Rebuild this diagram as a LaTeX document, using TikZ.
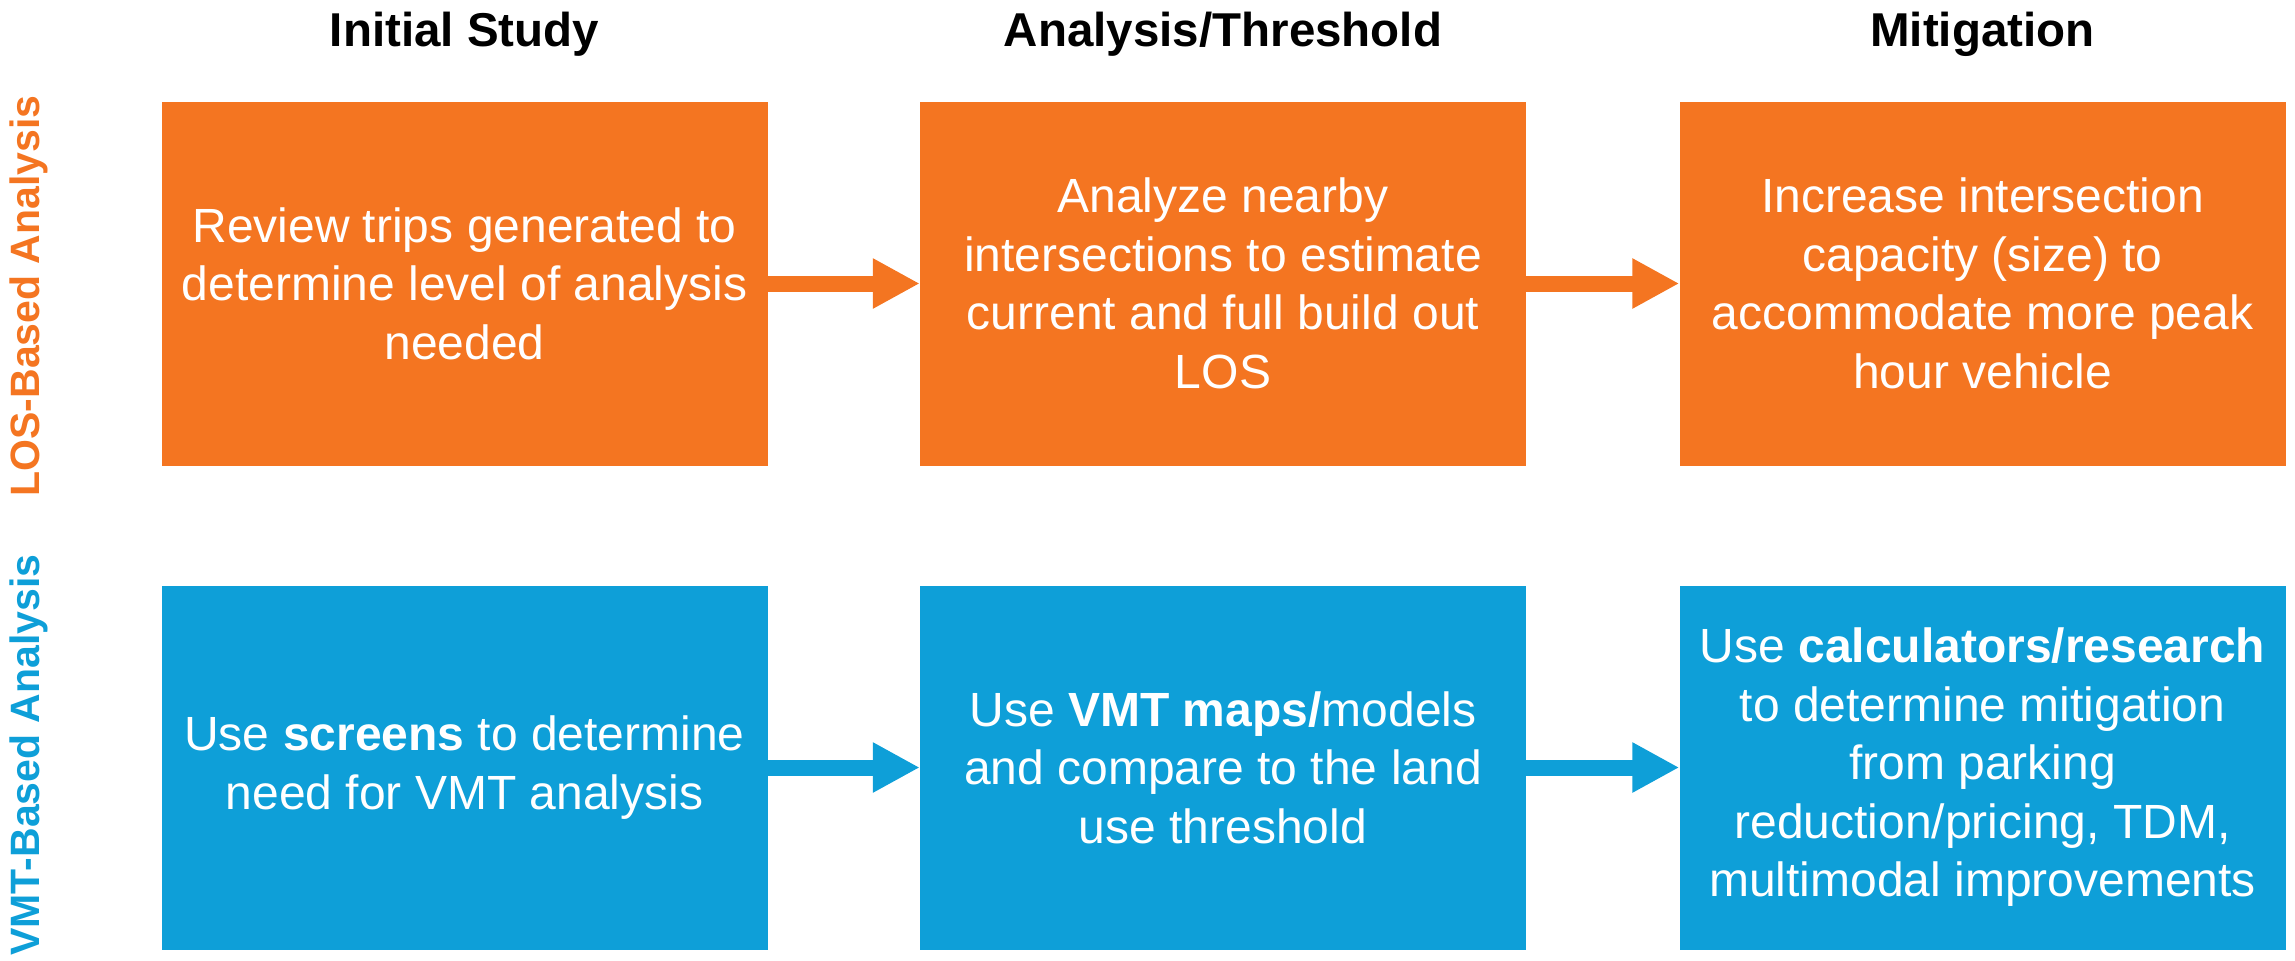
\documentclass[tikz,border=0pt]{standalone}
\usepackage{fontspec}
\setmainfont{Liberation Sans}
\usetikzlibrary{arrows.meta}
\definecolor{losorange}{RGB}{244,117,33}
\definecolor{vmtblue}{RGB}{14,159,216}
\begin{document}
\begin{tikzpicture}[x=1pt,y=-1pt,
  boxbase/.style={minimum width=606pt,minimum height=364pt,inner sep=0pt,align=center,text=white,font=\fontsize{48}{58.5}\selectfont},
  obox/.style={boxbase,fill=losorange},
  bbox/.style={boxbase,fill=vmtblue},
  head/.style={font=\fontsize{47.5}{57}\selectfont\bfseries,anchor=base},
  side/.style={rotate=90,font=\fontsize{41}{49}\selectfont\bfseries},
  arrowO/.style={draw=losorange,line width=16pt,-{Triangle[length=47pt,width=47pt]},losorange},
  arrowB/.style={draw=vmtblue,line width=16pt,-{Triangle[length=47pt,width=47pt]},vmtblue}]
\useasboundingbox (0,0) rectangle (2295,961);
% headers
\node[head] (h1) at (464.5,46) {Initial Study};
\node[head] (h2) at (1223,46) {Analysis/Threshold};
\node[head] (h3) at (1982.5,46) {Mitigation};
% side labels
\node[side,text=losorange] (sl) at (29,296) {LOS-Based Analysis};
\node[side,text=vmtblue] (sv) at (29,755) {VMT-Based Analysis};
% orange row
\node[obox] (o1) at (464.5,283.5) {Review trips generated to\\determine level of analysis\\needed};
\node[obox] (o2) at (1223,283.5) {Analyze nearby\\intersections to estimate\\current and full build out\\LOS};
\node[obox] (o3) at (1982.5,283.5) {Increase intersection\\capacity (size) to\\accommodate more peak\\hour vehicle};
% blue row
\node[bbox] (b1) at (464.5,767.5) {Use \textbf{screens} to determine\\need for VMT analysis};
\node[bbox] (b2) at (1223,767.5) {Use \textbf{VMT maps/}models\\and compare to the land\\use threshold};
\node[bbox] (b3) at (1982.5,767.5) {Use \textbf{calculators/research}\\to determine mitigation\\from parking\\reduction/pricing, TDM,\\multimodal improvements};
% arrows
\draw[arrowO] (o1.east) -- (o2.west);
\draw[arrowO] (o2.east) -- (o3.west);
\draw[arrowB] (b1.east) -- (b2.west);
\draw[arrowB] (b2.east) -- (b3.west);
\end{tikzpicture}
\end{document}
